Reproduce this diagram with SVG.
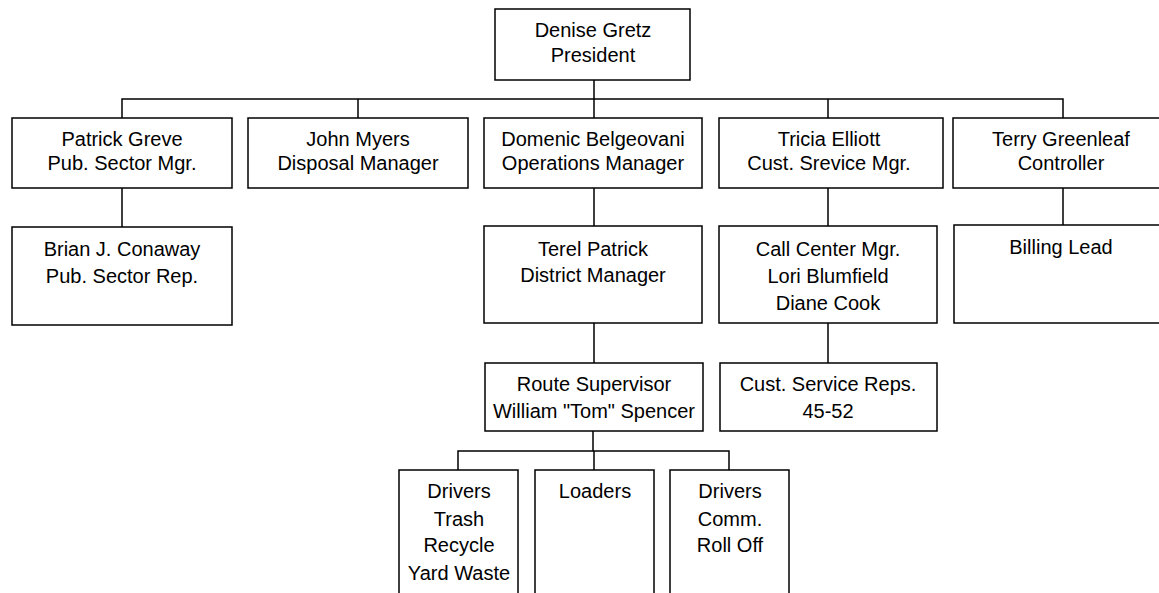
<svg xmlns="http://www.w3.org/2000/svg" width="1159" height="593" viewBox="0 0 1159 593">
<style>
rect{fill:#fff;stroke:#000;stroke-width:1.5}
text{font-family:"Liberation Sans",Arial,sans-serif;font-size:20px;fill:#000;text-anchor:middle}
#connectors path{fill:none;stroke:#000;stroke-width:1.5}
</style>
<rect x="0" y="0" width="1159" height="593" style="stroke:none"/>
<g id="connectors">
<path d="M594 80V99M122 118V99H1063V118M358 99V118M594 99V118M828 99V118"/>
<path d="M122 188V227M594 188V226M828 188V226M1063 188V225"/>
<path d="M594 323V363M828 323V363"/>
<path d="M593 431V451M458 470V451H729V470M594 451V470"/>
</g>
<g id="president"><rect x="495" y="9" width="195" height="71"/><text x="593" y="37">Denise Gretz</text><text x="593" y="62">President</text></g>
<g id="greve"><rect x="12" y="118" width="220" height="70"/><text x="122" y="146">Patrick Greve</text><text x="122" y="170">Pub. Sector Mgr.</text></g>
<g id="myers"><rect x="248" y="118" width="220" height="70"/><text x="358" y="146">John Myers</text><text x="358" y="170">Disposal Manager</text></g>
<g id="belgeovani"><rect x="484" y="118" width="218" height="70"/><text x="593" y="146">Domenic Belgeovani</text><text x="593" y="170">Operations Manager</text></g>
<g id="elliott"><rect x="719" y="118" width="224" height="70"/><text x="829" y="146">Tricia Elliott</text><text x="829" y="170">Cust. Srevice Mgr.</text></g>
<g id="greenleaf"><rect x="953" y="118" width="222" height="70"/><text x="1061" y="146">Terry Greenleaf</text><text x="1061" y="170">Controller</text></g>
<g id="conaway"><rect x="12" y="227" width="220" height="98"/><text x="122" y="256">Brian J. Conaway</text><text x="122" y="283">Pub. Sector Rep.</text></g>
<g id="terel"><rect x="484" y="226" width="218" height="97"/><text x="593" y="256">Terel Patrick</text><text x="593" y="282">District Manager</text></g>
<g id="callcenter"><rect x="719" y="226" width="218" height="97"/><text x="828" y="256">Call Center Mgr.</text><text x="828" y="283">Lori Blumfield</text><text x="828" y="310">Diane Cook</text></g>
<g id="billing"><rect x="954" y="225" width="221" height="98"/><text x="1061" y="254">Billing Lead</text></g>
<g id="route"><rect x="485" y="363" width="218" height="68"/><text x="594" y="391">Route Supervisor</text><text x="594" y="418">William "Tom" Spencer</text></g>
<g id="custreps"><rect x="720" y="363" width="217" height="68"/><text x="828" y="391">Cust. Service Reps.</text><text x="828" y="418">45-52</text></g>
<g id="drivers1"><rect x="399" y="470" width="119" height="130"/><text x="459" y="498">Drivers</text><text x="459" y="526">Trash</text><text x="459" y="552">Recycle</text><text x="459" y="580">Yard Waste</text></g>
<g id="loaders"><rect x="535" y="470" width="119" height="130"/><text x="595" y="498">Loaders</text></g>
<g id="drivers2"><rect x="670" y="470" width="119" height="130"/><text x="730" y="498">Drivers</text><text x="730" y="526">Comm.</text><text x="730" y="552">Roll Off</text></g>
</svg>
